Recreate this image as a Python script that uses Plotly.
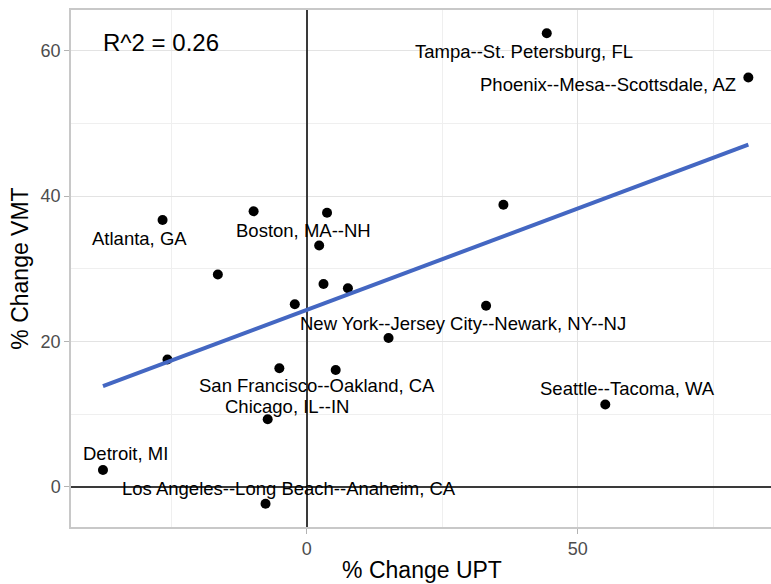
import numpy as np
import plotly.graph_objects as go

# ---- data ----
city = [
    "Atlanta, GA", None, "Boston, MA--NH", None, None, None, None, None,
    "Tampa--St. Petersburg, FL", "Phoenix--Mesa--Scottsdale, AZ", None, None, None,
    "San Francisco--Oakland, CA", None, "New York--Jersey City--Newark, NY--NJ",
    "Chicago, IL--IN", "Detroit, MI", "Los Angeles--Long Beach--Anaheim, CA",
    "Seattle--Tacoma, WA",
]
pct_upt = [-26.6, -9.8, 3.75, 2.3, -16.4, 3.1, 7.6, -2.2, 44.3, 81.5, 36.3, -25.7,
           -5.05, 5.35, 15.1, 33.1, -7.2, -37.6, -7.6, 55.1]
pct_vmt = [36.7, 37.9, 37.7, 33.2, 29.2, 27.9, 27.3, 25.1, 62.4, 56.3, 38.8, 17.5,
           16.3, 16.05, 20.45, 24.9, 9.27, 2.3, -2.34, 11.3]
r2_text = "R^2 = 0.26"
x_ticks = [0, 50]
y_ticks = [0, 20, 40, 60]

# ---- linear fit ----
x = np.array(pct_upt)
y = np.array(pct_vmt)
slope, intercept = np.polyfit(x, y, 1)
fit_x = np.linspace(x.min(), x.max(), 80)
fit_y = intercept + slope * fit_x

# ---- label pixel offsets (layout only) ----
label_shift = {
    "Atlanta, GA": (-23, -18),
    "Boston, MA--NH": (-23.5, -18),
    "Tampa--St. Petersburg, FL": (-22.5, -18.5),
    "Phoenix--Mesa--Scottsdale, AZ": (-140.5, -7),
    "New York--Jersey City--Newark, NY--NJ": (-23.5, -17.5),
    "San Francisco--Oakland, CA": (-19, -15),
    "Chicago, IL--IN": (19, 12.5),
    "Detroit, MI": (23, 16.5),
    "Los Angeles--Long Beach--Anaheim, CA": (23, 15.5),
    "Seattle--Tacoma, WA": (22.5, 16),
}

FONT = "Liberation Sans, Arial, sans-serif"

fig = go.Figure()
fig.add_trace(go.Scatter(x=pct_upt, y=pct_vmt, mode="markers",
                         marker=dict(color="black", size=10), showlegend=False,
                         hoverinfo="skip"))
fig.add_trace(go.Scatter(x=fit_x, y=fit_y, mode="lines",
                         line=dict(color="#4467C2", width=4), showlegend=False,
                         hoverinfo="skip"))

annotations = []
for name, xi, yi in zip(city, pct_upt, pct_vmt):
    if name is None:
        continue
    dx, dy = label_shift[name]
    annotations.append(dict(x=xi, y=yi, xref="x", yref="y", text=name,
                            showarrow=False, xshift=dx, yshift=dy,
                            font=dict(family=FONT, size=18.5, color="black")))
annotations.append(dict(x=-26.8, y=61.1, xref="x", yref="y", text=r2_text,
                        showarrow=False, font=dict(family=FONT, size=24, color="black")))

axis_common = dict(
    showgrid=True, gridcolor="#E3E3E3", gridwidth=1,
    ticks="outside", ticklen=5, tickcolor="#B3B3B3", tickwidth=1,
    tickfont=dict(family=FONT, size=18, color="#4D4D4D"),
    zeroline=True, zerolinecolor="#3A3A3A", zerolinewidth=1.7,
    showline=True, linecolor="#C8C8C8", linewidth=1.5,
    automargin=False,
)

fig.update_layout(
    width=773, height=584,
    margin=dict(l=71, r=0, t=10, b=57),
    plot_bgcolor="white", paper_bgcolor="white",
    annotations=annotations,
    xaxis=dict(range=[-43.5, 86.05], tickvals=x_ticks, mirror=True,
               minor=dict(dtick=25, tick0=0, showgrid=True, gridcolor="#EFEFEF",
                          ticks=""),
               title=dict(text="% Change UPT", standoff=4,
                          font=dict(family=FONT, size=23, color="black")),
               **axis_common),
    yaxis=dict(range=[-5.55, 65.6], tickvals=y_ticks, mirror=False,
               minor=dict(dtick=10, tick0=0, showgrid=True, gridcolor="#EFEFEF",
                          ticks=""),
               title=dict(text="% Change VMT", standoff=6,
                          font=dict(family=FONT, size=23, color="black")),
               **axis_common),
)

fig.write_html(
    "out.html",
    config={"displayModeBar": False},
    post_script="document.body.style.margin='0';document.body.style.overflow='hidden';",
)
